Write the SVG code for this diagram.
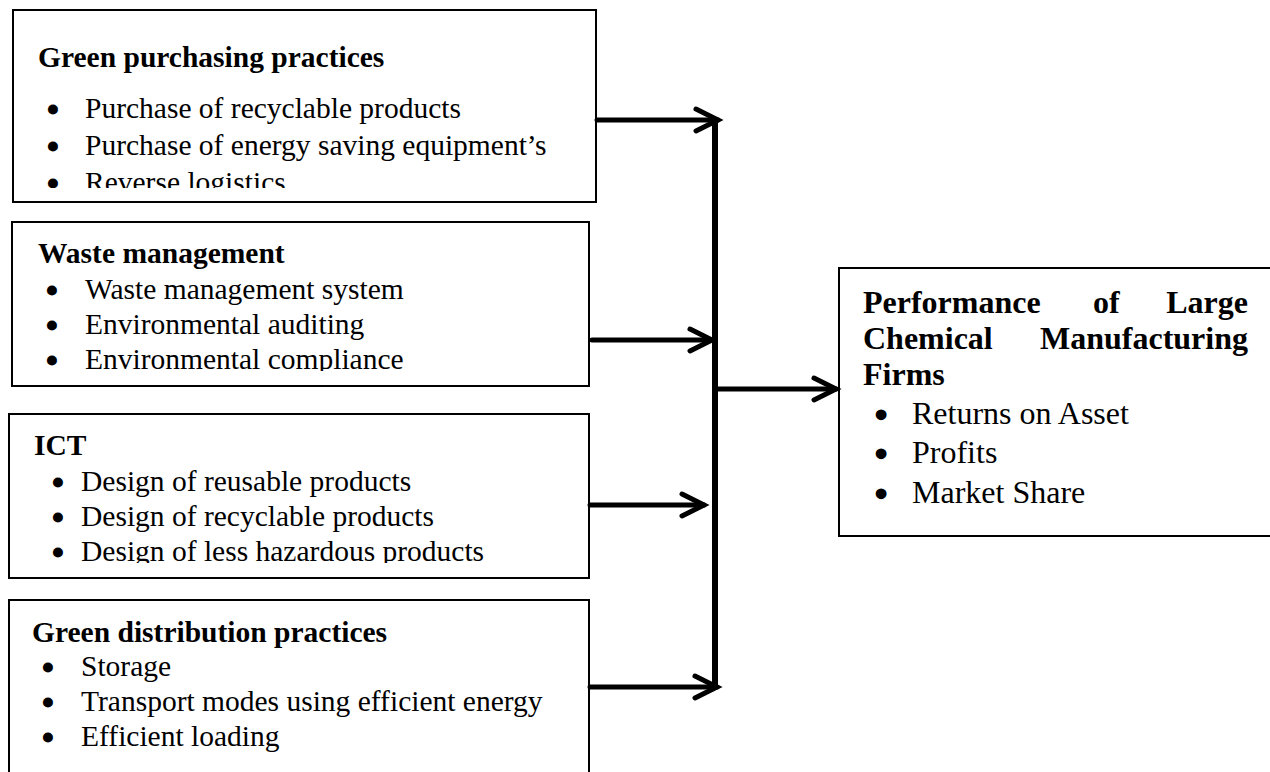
<svg xmlns="http://www.w3.org/2000/svg" width="1270" height="772" viewBox="0 0 1270 772">
  <style>
    .box { fill: #ffffff; stroke: #000000; stroke-width: 2; }
    .title { font-family: "Liberation Serif", "Times New Roman", serif; font-weight: bold; font-size: 29.5px; fill: #000; }
    .item { font-family: "Liberation Serif", "Times New Roman", serif; font-size: 29.5px; fill: #000; }
    .dot { font-family: "Liberation Serif", "Times New Roman", serif; font-size: 29.5px; fill: #000; stroke: #000; stroke-width: 3; stroke-linejoin: round; text-anchor: middle; }
    .rdot { font-family: "Liberation Serif", "Times New Roman", serif; font-size: 32px; fill: #000; stroke: #000; stroke-width: 3.2; stroke-linejoin: round; text-anchor: middle; }
    .rtitle { font-family: "Liberation Serif", "Times New Roman", serif; font-weight: bold; font-size: 32px; fill: #000; }
    .ritem { font-family: "Liberation Serif", "Times New Roman", serif; font-size: 32px; fill: #000; }
    .wire { fill: none; stroke: #000; stroke-width: 5; stroke-linecap: round; }
    .bar { fill: none; stroke: #000; stroke-width: 6; }
  </style>
  <defs>
    <marker id="chevron" markerUnits="userSpaceOnUse" viewBox="-30 -16 36 32" refX="0" refY="0" markerWidth="36" markerHeight="32" orient="auto" overflow="visible">
      <path d="M-22,-11 L0,0 L-22,11" fill="none" stroke="#000" stroke-width="5" stroke-linecap="round" stroke-linejoin="miter"/>
    </marker>
    <clipPath id="clip-purchasing"><rect x="13" y="11" width="582" height="177"/></clipPath>
    <clipPath id="clip-waste"><rect x="12" y="223" width="576" height="148"/></clipPath>
    <clipPath id="clip-ict"><rect x="9" y="415" width="579" height="148"/></clipPath>
  </defs>

  <rect width="1270" height="772" fill="#ffffff"/>

  <!-- Green purchasing practices -->
  <g id="node-purchasing">
    <rect class="box" x="13" y="10" width="583" height="192"/>
    <g clip-path="url(#clip-purchasing)">
      <text class="title" x="38" y="67">Green purchasing practices</text>
      <text class="dot" x="53" y="120">•</text>
      <text class="item" x="85" y="118">Purchase of recyclable products</text>
      <text class="dot" x="53" y="157">•</text>
      <text class="item" x="85" y="155">Purchase of energy saving equipment’s</text>
      <text class="dot" x="53" y="194">•</text>
      <text class="item" x="85" y="192">Reverse logistics</text>
    </g>
  </g>

  <!-- Waste management -->
  <g id="node-waste">
    <rect class="box" x="12" y="222" width="577" height="164"/>
    <g clip-path="url(#clip-waste)">
      <text class="title" x="38" y="263">Waste management</text>
      <text class="dot" x="52" y="301">•</text>
      <text class="item" x="85" y="299">Waste management system</text>
      <text class="dot" x="52" y="336">•</text>
      <text class="item" x="85" y="334">Environmental auditing</text>
      <text class="dot" x="52" y="371">•</text>
      <text class="item" x="85" y="369">Environmental compliance</text>
    </g>
  </g>

  <!-- ICT -->
  <g id="node-ict">
    <rect class="box" x="9" y="414" width="580" height="164"/>
    <g clip-path="url(#clip-ict)">
      <text class="title" x="34" y="455">ICT</text>
      <text class="dot" x="58" y="493">•</text>
      <text class="item" x="81" y="491">Design of reusable products</text>
      <text class="dot" x="58" y="528">•</text>
      <text class="item" x="81" y="526">Design of recyclable products</text>
      <text class="dot" x="58" y="563">•</text>
      <text class="item" x="81" y="561">Design of less hazardous products</text>
    </g>
  </g>

  <!-- Green distribution practices -->
  <g id="node-distribution">
    <rect class="box" x="9" y="600" width="580" height="200"/>
    <text class="title" x="32" y="642">Green distribution practices</text>
    <text class="dot" x="48" y="678">•</text>
    <text class="item" x="81" y="676">Storage</text>
    <text class="dot" x="48" y="713">•</text>
    <text class="item" x="81" y="711">Transport modes using efficient energy</text>
    <text class="dot" x="48" y="748">•</text>
    <text class="item" x="81" y="746">Efficient loading</text>
  </g>

  <!-- Performance of Large Chemical Manufacturing Firms -->
  <g id="node-performance">
    <rect class="box" x="839" y="268" width="460" height="268"/>
    <text class="rtitle" x="863" y="313">Performance</text>
    <text class="rtitle" x="1093" y="313">of</text>
    <text class="rtitle" x="1248" y="313" text-anchor="end">Large</text>
    <text class="rtitle" x="863" y="349">Chemical</text>
    <text class="rtitle" x="1248" y="349" text-anchor="end">Manufacturing</text>
    <text class="rtitle" x="863" y="385">Firms</text>
    <text class="rdot" x="881" y="426">•</text>
    <text class="ritem" x="912" y="424">Returns on Asset</text>
    <text class="rdot" x="881" y="465">•</text>
    <text class="ritem" x="912" y="463">Profits</text>
    <text class="rdot" x="881" y="505">•</text>
    <text class="ritem" x="912" y="503">Market Share</text>
  </g>

  <!-- Connectors -->
  <g id="connectors">
    <line class="bar" x1="715" y1="118" x2="715" y2="689"/>
    <line class="wire" x1="597" y1="120" x2="718" y2="120" marker-end="url(#chevron)"/>
    <line class="wire" x1="592" y1="340" x2="712" y2="340" marker-end="url(#chevron)"/>
    <line class="wire" x1="590" y1="505" x2="704" y2="505" marker-end="url(#chevron)"/>
    <line class="wire" x1="590" y1="687" x2="717" y2="687" marker-end="url(#chevron)"/>
    <line class="wire" x1="717" y1="389" x2="836" y2="389" marker-end="url(#chevron)"/>
  </g>
</svg>
